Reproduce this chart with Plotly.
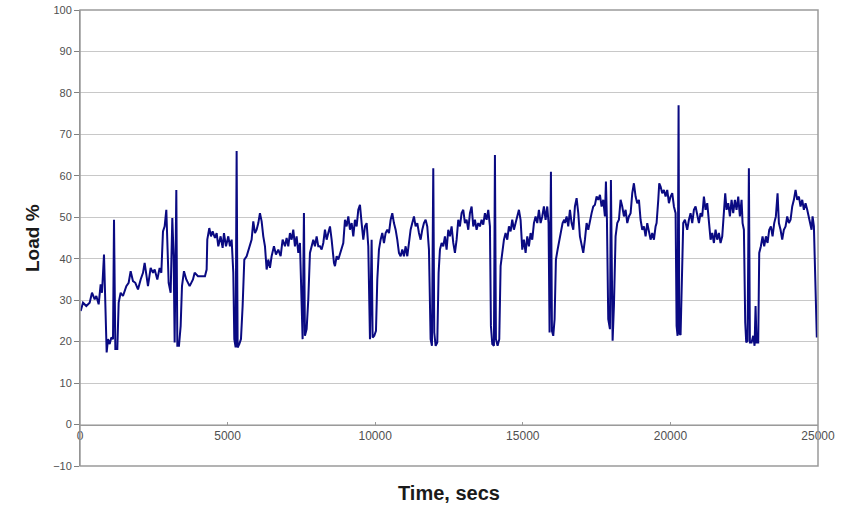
import plotly.graph_objects as go

TIME = [
    23, 102, 214, 327, 406, 497, 553, 632, 700, 745, 813, 858, 903, 948, 1005, 1061, 1118, 1152, 1197, 1264,
    1310, 1377, 1456, 1569, 1648, 1716, 1795, 1874, 1964, 2055, 2134, 2190, 2247, 2303, 2393, 2473, 2529, 2619,
    2698, 2755, 2811, 2868, 2924, 2958, 3003, 3071, 3127, 3172, 3206, 3263, 3297, 3353, 3410, 3455, 3522, 3601,
    3714, 3827, 3884, 3997,
    4233, 4290, 4312, 4380, 4437, 4493, 4572, 4629, 4685, 4764, 4832, 4877, 4945, 5024, 5080, 5137, 5193, 5227,
    5272, 5306, 5340, 5396, 5453, 5509, 5566, 5645, 5735, 5814, 5870, 5927, 5983, 6040, 6096, 6153, 6209, 6266,
    6322, 6378, 6435, 6491, 6570, 6638, 6717, 6796, 6864, 6943, 6999, 7056, 7112, 7169, 7225, 7282, 7338, 7395,
    7451, 7507, 7541, 7586, 7620, 7677, 7733, 7790, 7846, 7903, 7959, 8016, 8072,
    8129, 8185, 8242, 8298, 8355, 8411, 8468, 8524, 8558, 8603, 8637, 8694, 8750, 8806, 8863, 8919, 8976, 9032,
    9089, 9145, 9202, 9258, 9314, 9371, 9427, 9484, 9540, 9597, 9653, 9710, 9766, 9800, 9823, 9879, 9913, 9969,
    10026, 10071, 10127, 10184, 10240, 10297, 10353, 10410, 10466, 10523, 10579, 10635, 10692, 10748, 10805,
    10861, 10918, 10974, 11031, 11087, 11143, 11200, 11256, 11313, 11369, 11426, 11482, 11539, 11595, 11651,
    11708, 11764, 11821, 11877, 11922, 11967, 12001, 12047, 12103, 12148, 12193, 12250,
    12306, 12362, 12419, 12475, 12532, 12588, 12645, 12701, 12758, 12814, 12870, 12927, 12983, 13040, 13096,
    13153, 13209, 13266, 13322, 13378, 13435, 13491, 13548, 13604, 13661, 13717, 13774, 13830, 13887, 13920,
    13966, 14022, 14056, 14090, 14146, 14203, 14248, 14304, 14361, 14417, 14474, 14530, 14587, 14643, 14699,
    14756, 14812, 14869, 14925, 14982, 15038, 15095, 15151, 15207, 15264, 15320, 15377, 15433, 15490, 15546,
    15603, 15659, 15715, 15772, 15828, 15873, 15907, 15953, 15987, 16032, 16077, 16122, 16179, 16235, 16291,
    16348, 16404,
    16427, 16484, 16540, 16597, 16653, 16710, 16766, 16823, 16879, 16935, 16992, 17048, 17105, 17161, 17218,
    17274, 17331, 17387, 17443, 17500, 17556, 17613, 17669, 17726, 17782, 17816, 17850, 17895, 17952, 17985,
    18019, 18042, 18087, 18143, 18200, 18256, 18313, 18369, 18426, 18482, 18539, 18595, 18652, 18708, 18764,
    18821, 18877, 18934, 18990, 19047, 19103, 19160, 19216, 19272, 19329, 19385, 19442, 19498, 19532, 19589,
    19622, 19668, 19724, 19780, 19837, 19893, 19950, 20006, 20063, 20119, 20176, 20210, 20243, 20277, 20300,
    20345, 20390, 20435, 20492,
    20514, 20570, 20627, 20683, 20740, 20796, 20853, 20909, 20966, 21022, 21078, 21135, 21191, 21248, 21304,
    21361, 21417, 21474, 21530, 21586, 21643, 21699, 21756, 21812, 21857, 21903, 21959, 22016, 22072, 22128,
    22185, 22241, 22298, 22354, 22411, 22445, 22490, 22535, 22569, 22614, 22659, 22693, 22749, 22806, 22851,
    22885, 22919, 22975, 23009, 23065, 23122, 23178, 23235, 23291, 23348, 23404, 23461, 23517, 23573, 23630,
    23675, 23731, 23788, 23844, 23901, 23957, 24014, 24070, 24127, 24183, 24240, 24296, 24353, 24409, 24466,
    24522, 24578, 24635, 24691, 24748, 24782, 24816, 24861, 24960,
]

LOAD = [
    27.4, 29.4, 28.6, 29.4, 31.8, 30.2, 31, 29, 33.8, 31.8, 41, 30, 17.4, 20.6, 19.4, 21, 20.6, 49.4, 18.2, 18.2,
    29.4, 31.8, 31, 33.4, 34.2, 37, 34.6, 34.2, 32.6, 35, 36.6, 39, 35.8, 33.4, 37.8, 36.6, 37.4, 35,
    37.8, 36.6, 46.6, 47.8, 51.8, 41.4, 34.2, 31.8, 49.8, 40.6, 19.8, 56.6, 19, 19, 23.8, 33.4, 37, 35,
    33.4, 35, 36.6, 35.8,
    35.8, 37.4, 44.6, 47.4, 45.4, 46.6, 45, 46.2, 43, 45.4, 42.6, 46.2, 43, 45.4, 43, 44.6, 36.6, 20.6,
    18.6, 66, 18.6, 19.4, 20.6, 28.6, 39.8, 40.6, 43, 44.6, 49, 46.2, 47, 48.6, 51, 49, 45.4, 43,
    37.4, 39.8, 37.8, 40.6, 43, 41, 42.2, 40.6, 44.6, 43, 45, 43, 46.2, 44.6, 47, 43, 45.4, 41.4,
    43.8, 24.6, 20.6, 51, 21.4, 23, 30.2, 41.4, 43, 44.6, 43, 45.4, 43,
    43, 42.2, 43.8, 47, 44.6, 46.2, 47.8, 44.6, 41.4, 39, 38.2, 40.6, 39.8, 41, 42.2, 43.8, 49.4, 47.8,
    50.2, 47, 48.6, 45.4, 49.4, 47.8, 51.8, 53, 48.6, 44.6, 47.8, 48.6, 43, 22.2, 20.6, 44.6, 21, 21.4,
    22.6, 35, 42.2, 44.6, 46.2, 43.8, 46.2, 47, 46.2, 49.4, 51, 48.6, 47, 44.6, 41.4,
    40.6, 42.2, 40.6, 43, 40.6, 44.6, 47, 48.6, 50.2, 47.8, 48.6, 46.2, 44.6, 47, 48.6,
    49.4, 47.8, 42.2, 20.6, 19, 61.8, 22.2, 19, 19.8, 36.6, 42.2, 43.8,
    43, 45.4, 42.2, 47, 45.4, 47.8, 43.8, 41.4, 44.6, 49.4, 47.8, 51, 51.8, 48.6, 49.4,
    47, 51, 52.6, 47.8, 49.4, 47, 48.6, 47.8, 49.4, 48.2, 51, 49.4, 51.8, 47.8, 23.8,
    19.4, 19, 65, 20.6, 19, 20.6, 38.2, 42.2, 44.6, 46.2, 44.6, 47.8, 46.6, 49.4, 47,
    48.6, 50.2, 51.8, 49.4, 42.2, 44.6, 41.4, 45.4, 43, 46.2, 44.6, 48.6, 50.2, 48.6, 51.8,
    48.6, 50.2, 52.6, 49.4, 52.6, 48.6, 22.2, 61, 22.6, 21.4, 25.4, 39.8, 42.2, 44.6, 47,
    48.6, 49.4,
    48.6, 50.2, 47.8, 51.8, 48.6, 47, 52.6, 54.6, 51, 45.4, 43, 41.4, 44.6, 48.6, 47,
    49.4, 51, 52.6, 53, 55, 54.2, 55.4, 52.6, 54.2, 50.2, 58.6, 49.4, 25.4, 23, 59,
    21.4, 20.2, 28.6, 45.4, 48.6, 49.4, 54.2, 52.6, 50.2, 51.8, 48.6, 50.2, 51, 55.8, 58.2,
    55, 53.4, 54.2, 49.4, 47, 47.8, 45.4, 48.6, 46.2, 44.6, 46.2, 44.6, 47.8, 48.6, 54.2,
    58.2, 57.4, 55.8, 56.6, 55, 56.6, 53.4, 55, 55.8, 52.6, 51, 23.8, 21.4, 77, 22,
    21.6, 32.6, 48.6, 49.4,
    48.6, 47, 49.4, 51, 48.6, 51.8, 52.6, 50.2, 48.6, 51, 50.2, 55, 51.8, 53.4, 49.4,
    44.6, 46.2, 43.8, 47, 44.6, 46.2, 43.8, 45.4, 50.2, 55.8, 51.8, 53.4, 50.2, 54.2, 51,
    54.2, 51.8, 55, 50.2, 54.2, 48.6, 47, 24.6, 19.8, 20.2, 61.8, 19.8, 19.8, 21.4, 19,
    28.6, 19.8, 19.8, 41.4, 43, 45.4, 43, 45.4, 43.8, 47, 47.8, 45.4, 48.6, 50.2, 55.8,
    48.6, 47, 44.6, 47, 47.8, 50.2, 48.6, 49.4, 52.6, 54.2, 56.6, 54.2, 55, 52.6, 54.2,
    51.8, 53.4, 51.8, 50.2, 48.6, 47, 50.2, 47.8, 21,
]

X_TICKS = [0, 5000, 10000, 15000, 20000, 25000]
Y_TICKS = list(range(-10, 101, 10))

fig = go.Figure()
fig.add_trace(go.Scatter(
    x=TIME, y=LOAD, mode="lines",
    line=dict(color="#0a0a82", width=2),
    showlegend=False, hoverinfo="skip",
))

fig.update_layout(
    width=859, height=509,
    margin=dict(l=80, r=41, t=10, b=43, autoexpand=False),
    paper_bgcolor="white", plot_bgcolor="white",
    font=dict(family="Liberation Sans, Arial, sans-serif", color="#505050"),
    xaxis=dict(
        range=[0, 25000], tickvals=X_TICKS, ticktext=[str(v) for v in X_TICKS],
        anchor="free", position=10 / 110, automargin=False,
        showgrid=False, zeroline=False,
        showline=True, linecolor="#9a9a9a", linewidth=1,
        ticks="inside", ticklen=3, tickcolor="#9a9a9a",
        tickfont=dict(size=12, color="#505050"),
    ),
    yaxis=dict(
        range=[-10, 100], tickvals=Y_TICKS, automargin=False,
        showgrid=True, gridcolor="#c8c8c8", gridwidth=1,
        zeroline=False,
        showline=True, linecolor="#808080", linewidth=1,
        ticks="outside", ticklen=5, tickcolor="#808080",
        tickfont=dict(size=11, color="#505050"),
    ),
    shapes=[dict(type="rect", xref="paper", yref="paper", x0=0, y0=0, x1=1, y1=1,
                 line=dict(color="#9a9a9a", width=1.5), fillcolor="rgba(0,0,0,0)", layer="above")],
    annotations=[
        dict(text="<b>Time, secs</b>", xref="paper", yref="paper", x=0.5, y=-0.059,
             xanchor="center", yanchor="middle", showarrow=False,
             font=dict(size=20, color="#1a1a1a", family="Liberation Sans, Arial, sans-serif")),
        dict(text="<b>Load %</b>", xref="paper", yref="paper", x=-0.065, y=0.5,
             xanchor="center", yanchor="middle", showarrow=False, textangle=-90,
             font=dict(size=19, color="#1a1a1a", family="Liberation Sans, Arial, sans-serif")),
    ],
)

fig.write_html(
    "out.html",
    config={"displayModeBar": False},
    post_script="document.body.style.margin='0';document.body.style.overflow='hidden';",
)
